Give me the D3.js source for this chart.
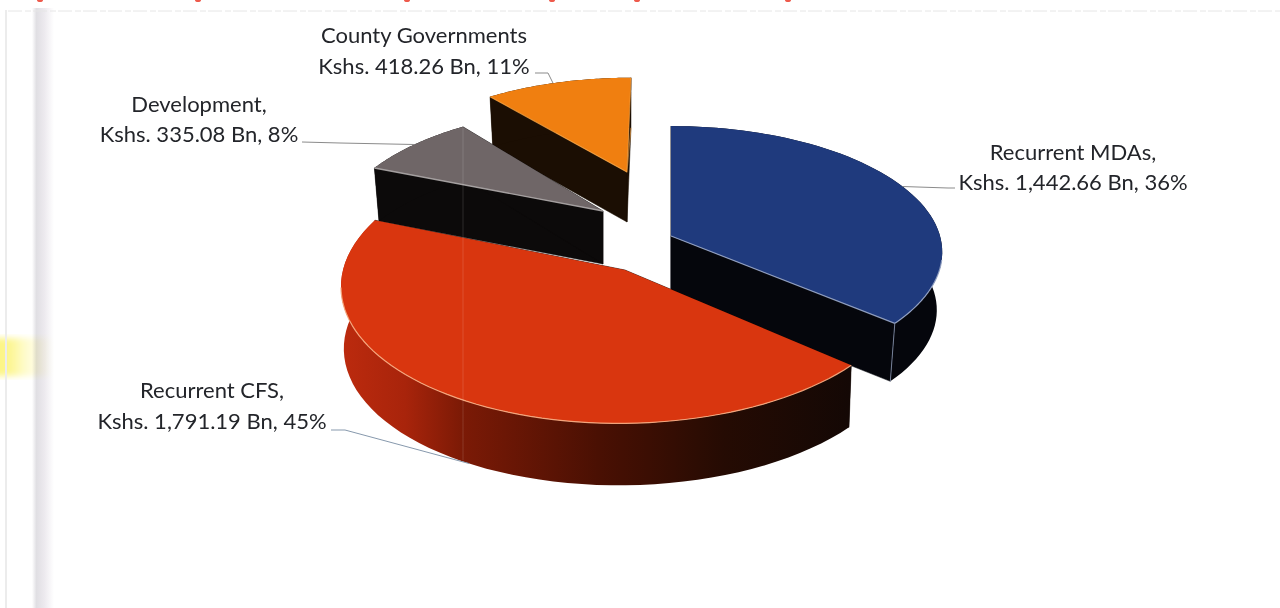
<!DOCTYPE html>
<html>
<head>
<meta charset="utf-8">
<style>
  html, body { margin: 0; padding: 0; background: #fff; }
  svg { display: block; }
  text { font-family: Lato, "Open Sans", sans-serif; fill: #23252a; }
</style>
<script src="https://cdn.jsdelivr.net/npm/d3@7/dist/d3.min.js"></script>
</head>
<body>
<svg id="chart" width="1280" height="608"></svg>
<script>
// Budget shares, in Kshs. billion
const categories = ["Recurrent MDAs", "Recurrent CFS", "Development", "County Governments"];
const values = [1442.66, 1791.19, 335.08, 418.26];
const percentLabels = [36, 45, 8, 11];
const headLines = ["Recurrent MDAs,", "Recurrent CFS,", "Development,", "County Governments"];

const topColors = ["#1f3a7d", "#d9360f", "#6f6667", "#f07f10"];
const wallColors = ["#05060c", "url(#cfsWall)", "#0c0a0a", "#1b0e03"];
const edgeColors = ["#98a6c8", "#f6a97f", "#aeaaaa", "#f9a544"];

// Each wedge has its own exploded frame on the tilted plate:
// screen point = apex + (rx sin t, -ry cos t) / (1 + p cos t), sheared by q.
// The lower face is the same outline, pulled in by shrink and dropped by depth.
const frames = [
  { ax: 671, ay: 236, rx: 269, ry: 124,   p: 0.128, q: 0,      depth: 58, shrink: 0.98 },
  { ax: 625, ay: 270, rx: 282, ry: 138,   p: 0.1,   q: -0.04,  depth: 62, shrink: 0.99 },
  { ax: 603, ay: 211, rx: 265, ry: 123.5, p: 0.2,   q: 0,      depth: 53, shrink: 0.98 },
  { ax: 627, ay: 172, rx: 238, ry: 99,    p: 0.05,  q: -0.043, depth: 50, shrink: 0.98 }
];

// Leader lines run from the label to a fraction of the wedge's rim angle
const labelLayout = [
  { anchor: [1073, 1073], base: [160, 190], rimAt: 0.5,  onFloor: false, from: [955, 188], bend: [948, 188] },
  { anchor: [212, 212],   base: [398, 429], rimAt: 0.49, onFloor: true,  from: [331, 430], bend: [345, 430] },
  { anchor: [199, 199],   base: [112, 142], rimAt: 0.5,  onFloor: false, from: [302, 142], bend: [340, 143] },
  { anchor: [424, 424],   base: [43, 74],   rimAt: 0.47, onFloor: false, from: [535, 73],  bend: [548, 73] }
];

// Tails of the clipped heading line at the very top of the sheet
const headingTailX = [40, 198, 407, 552, 637, 788];

const svg = d3.select("#chart");
const defs = svg.append("defs");

const wall = defs.append("linearGradient").attr("id", "cfsWall")
  .attr("gradientUnits", "userSpaceOnUse")
  .attr("x1", 345).attr("x2", 850).attr("y1", 0).attr("y2", 0);
[[0, "#bb2a0e"], [0.12, "#a8240b"], [0.23, "#7c1a06"], [0.5, "#4a1003"], [0.75, "#250b03"], [1, "#140805"]]
  .forEach(([o, c]) => wall.append("stop").attr("offset", o).attr("stop-color", c));

const fold = defs.append("linearGradient").attr("id", "paperFold");
[[0, "#ffffff"], [0.2, "#e0dfe3"], [0.55, "#ece9ee"], [1, "#ffffff"]]
  .forEach(([o, c]) => fold.append("stop").attr("offset", o).attr("stop-color", c));
const marker = defs.append("linearGradient").attr("id", "highlighter");
[[0, "#fbf15a"], [0.3, "#fcf47c"], [0.55, "#fefbc4"], [1, "#ffffff"]]
  .forEach(([o, c]) => marker.append("stop").attr("offset", o).attr("stop-color", c));
defs.append("filter").attr("id", "soften").append("feGaussianBlur").attr("stdDeviation", 3);

// Paper marks around the figure
const paper = svg.append("g");
paper.append("rect").attr("x", -6).attr("y", 338).attr("width", 58).attr("height", 38)
  .attr("fill", "url(#highlighter)").attr("fill-opacity", 0.8).attr("filter", "url(#soften)");
paper.append("rect").attr("x", 32).attr("y", 8).attr("width", 22).attr("height", 600)
  .attr("fill", "url(#paperFold)").style("mix-blend-mode", "multiply");
paper.append("rect").attr("x", 5).attr("y", 10).attr("width", 2).attr("height", 598)
  .attr("fill", "#ececec");
paper.append("line").attr("x1", 8).attr("x2", 1280).attr("y1", 11).attr("y2", 11)
  .attr("stroke", "#e6e6e6").attr("stroke-dasharray", "14 3 6 2");
paper.selectAll("ellipse").data(headingTailX).join("ellipse")
  .attr("cx", d => d).attr("cy", 0).attr("rx", 3).attr("ry", 2).attr("fill", "#ee5a4c");

const pie = d3.pie().sort(null).value(d => d).startAngle(0).endAngle(2 * Math.PI);
const slices = pie(values);

const line = d3.line();
const angleSteps = (a0, a1) => d3.range(0, 61).map(i => a0 + (a1 - a0) * i / 60);

function roof(f, t) {
  const k = 1 / (1 + f.p * Math.cos(t));
  const dy = -f.ry * Math.cos(t) * k;
  const dx = f.rx * Math.sin(t) * k + f.q * dy;
  return [f.ax + dx, f.ay + dy];
}
function floor(f, t) {
  const [x, y] = roof(f, t);
  return [f.ax + (x - f.ax) * f.shrink, y + f.depth];
}
const apexFloor = f => [f.ax, f.ay + f.depth];

// Draw back to front so nearer wedges hide what sits behind them
const paintOrder = [3, 2, 0, 1];
const pieGroup = svg.append("g");

paintOrder.forEach(i => {
  const s = slices[i], f = frames[i];
  const g = pieGroup.append("g");
  const ts = angleSteps(s.startAngle, s.endAngle);
  const apex = [f.ax, f.ay];

  // Radial faces
  [s.startAngle, s.endAngle].forEach(t => {
    g.append("path")
      .attr("d", line([apex, roof(f, t), floor(f, t), apexFloor(f)]) + "Z")
      .attr("fill", i === 1 ? "#140805" : wallColors[i])
      .attr("stroke", i === 1 ? "#140805" : wallColors[i]).attr("stroke-width", 0.5);
  });

  // Curved outer face
  g.append("path")
    .attr("d", line(ts.map(t => roof(f, t)).concat(ts.slice().reverse().map(t => floor(f, t)))) + "Z")
    .attr("fill", wallColors[i]);

  // Top surface
  g.append("path")
    .attr("d", line([apex].concat(ts.map(t => roof(f, t)))) + "Z")
    .attr("fill", topColors[i]);
});

// Bright bevels on the edges that face the viewer
const bevels = pieGroup.append("g").attr("fill", "none").attr("stroke-linejoin", "round");
function bevel(i, pts, width, opacity) {
  bevels.append("path").attr("d", line(pts))
    .attr("stroke", edgeColors[i]).attr("stroke-width", width).attr("stroke-opacity", opacity);
}
const mdas = slices[0], cfs = slices[1], dev = slices[2], county = slices[3];
bevel(0, [[frames[0].ax, frames[0].ay], roof(frames[0], mdas.endAngle)], 1.2, 0.9);
bevel(0, angleSteps(Math.PI * 0.56, mdas.endAngle).map(t => roof(frames[0], t)), 1.2, 0.9);
bevel(0, [roof(frames[0], mdas.endAngle), floor(frames[0], mdas.endAngle)], 1, 0.7);
bevel(1, angleSteps(cfs.startAngle, Math.PI * 1.46).map(t => roof(frames[1], t)), 1.2, 0.95);
bevel(2, [roof(frames[2], dev.startAngle), [frames[2].ax, frames[2].ay]], 1.4, 0.9);
bevel(3, [roof(frames[3], county.startAngle), [frames[3].ax, frames[3].ay]], 1.1, 0.8);
bevel(3, [roof(frames[3], county.endAngle), [frames[3].ax, frames[3].ay], floor(frames[3], county.endAngle)], 1.1, 0.6);

// Crease in the paper running through the pie
svg.append("line").attr("x1", 463).attr("x2", 463).attr("y1", 128).attr("y2", 460)
  .attr("stroke", "#ffffff").attr("stroke-opacity", 0.09).attr("stroke-width", 1.5);

// Labels and leader lines
const moneyFormat = d3.format(",.2f");
const labels = svg.append("g").attr("font-size", 22);
categories.forEach((name, i) => {
  const L = labelLayout[i];
  const rim = slices[i].startAngle + (slices[i].endAngle - slices[i].startAngle) * L.rimAt;
  const tip = (L.onFloor ? floor : roof)(frames[i], rim);
  labels.append("path").attr("d", line([L.from, L.bend, tip]))
    .attr("fill", "none").attr("stroke-width", 1)
    .attr("stroke", i === 1 ? "#8799ad" : "#8b8b8b");
  labels.append("text").attr("x", L.anchor[0]).attr("y", L.base[0])
    .attr("text-anchor", "middle").text(headLines[i]);
  labels.append("text").attr("x", L.anchor[1]).attr("y", L.base[1])
    .attr("text-anchor", "middle")
    .text(`Kshs. ${moneyFormat(values[i])} Bn, ${percentLabels[i]}%`);
});
</script>
</body>
</html>
